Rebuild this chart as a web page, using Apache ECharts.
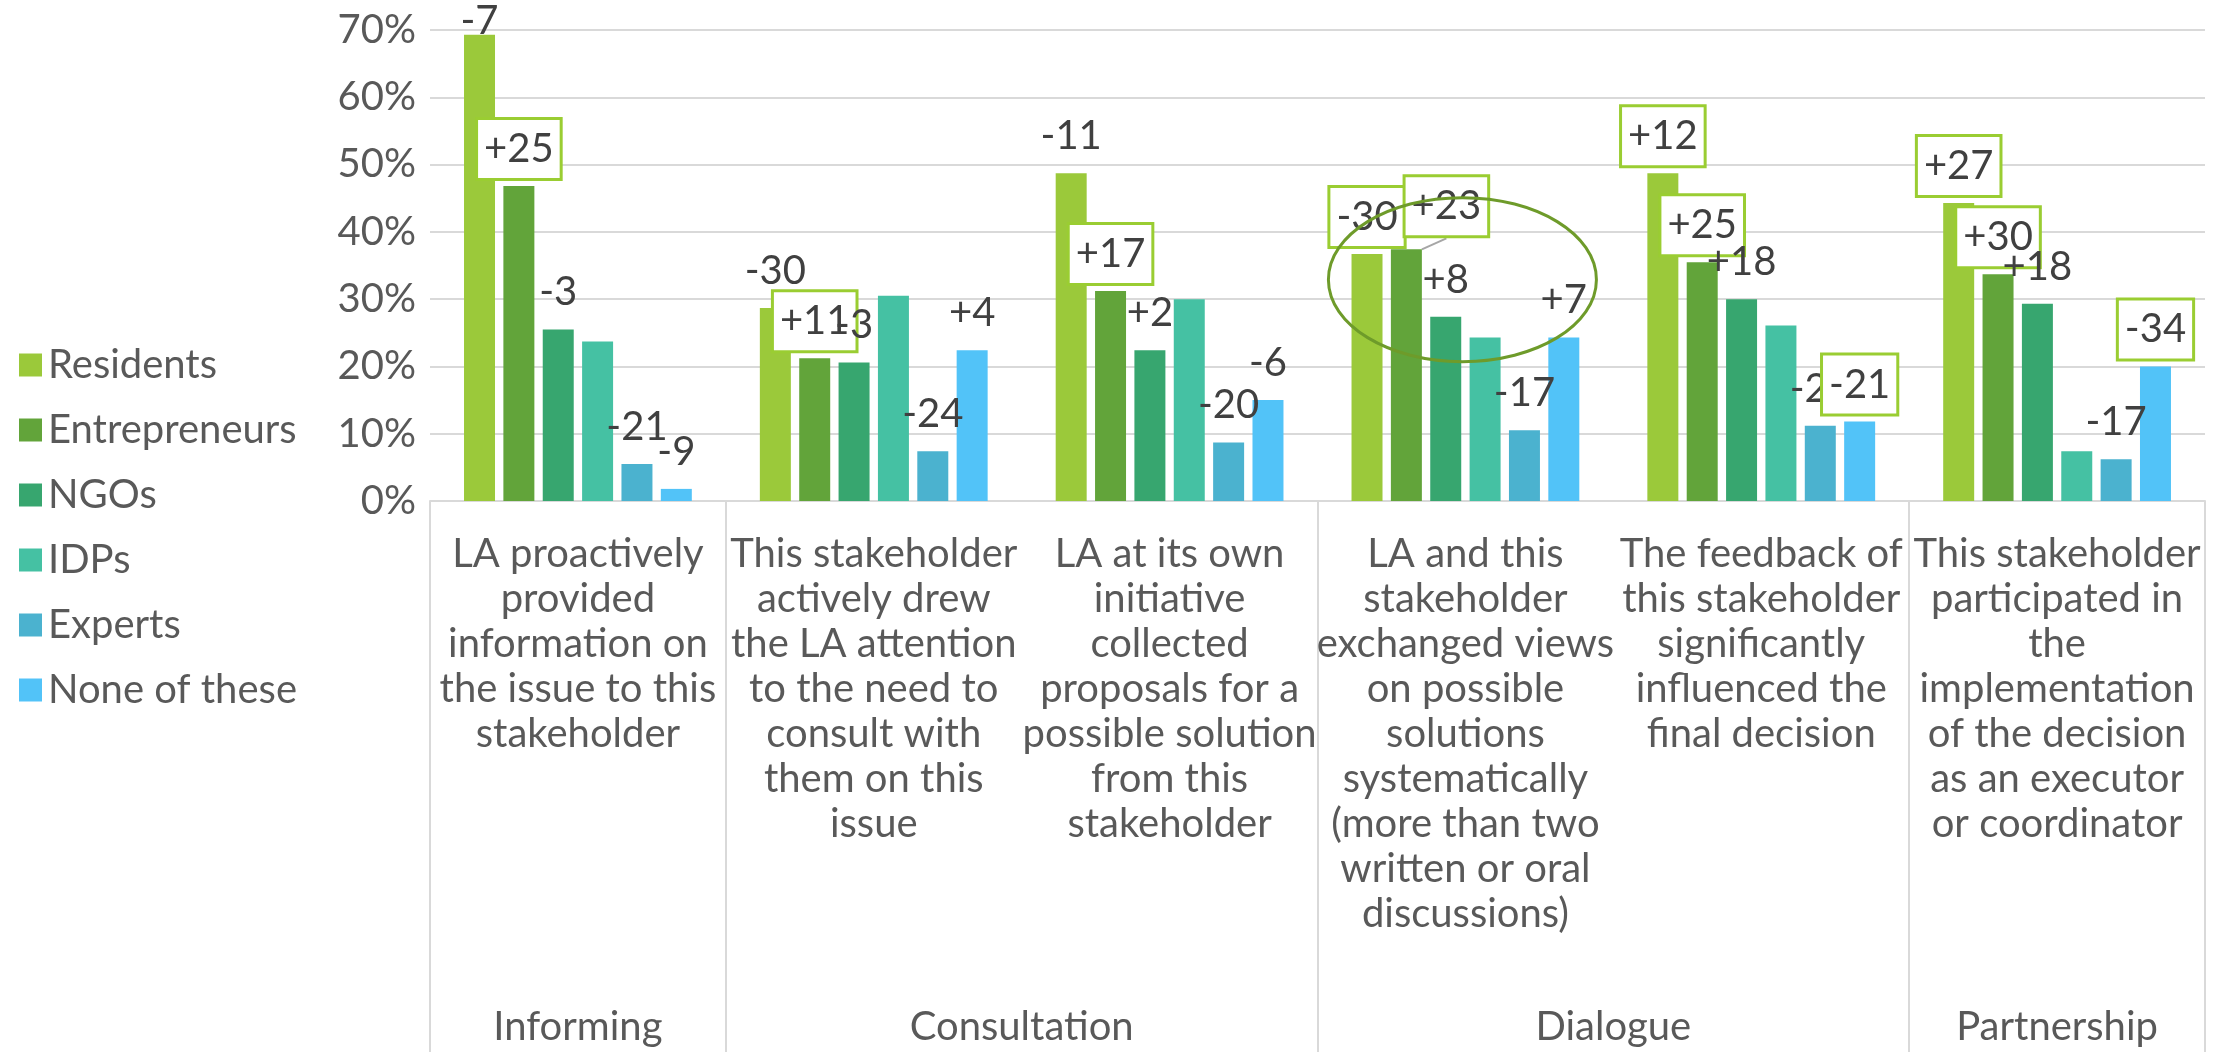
<!DOCTYPE html>
<html>
<head>
<meta charset="utf-8">
<script src="https://cdn.jsdelivr.net/npm/echarts@6/dist/echarts.min.js"></script>
<style>
  html, body { margin: 0; padding: 0; background: #ffffff; }
  #chart { width: 2213px; height: 1052px; }
</style>
</head>
<body>
<div id="chart"></div>
<script>
// ---------------- DATA ----------------
const categories = [
  'LA proactively\nprovided\ninformation on\nthe issue to this\nstakeholder',
  'This stakeholder\nactively drew\nthe LA attention\nto the need to\nconsult with\nthem on this\nissue',
  'LA at its own\ninitiative\ncollected\nproposals for a\npossible solution\nfrom this\nstakeholder',
  'LA and this\nstakeholder\nexchanged views\non possible\nsolutions\nsystematically\n(more than two\nwritten or oral\ndiscussions)',
  'The feedback of\nthis stakeholder\nsignificantly\ninfluenced the\nfinal decision',
  'This stakeholder\nparticipated in\nthe\nimplementation\nof the decision\nas an executor\nor coordinator'
];
const groupNames = ['Informing', 'Consultation', 'Dialogue', 'Partnership'];
const groupSpans = [1, 2, 2, 1];

const seriesNames = ['Residents', 'Entrepreneurs', 'NGOs', 'IDPs', 'Experts', 'None of these'];

const residents     = [69.3, 28.7, 48.7, 36.7, 48.7, 44.3];
const entrepreneurs = [46.8, 21.2, 31.2, 37.4, 35.5, 33.7];
const ngos          = [25.5, 20.6, 22.4, 27.4, 30.0, 29.3];
const idps          = [23.7, 30.5, 30.0, 24.3, 26.1, 7.4];
const experts       = [5.5, 7.4, 8.7, 10.5, 11.2, 6.2];
const noneOfThese   = [1.8, 22.4, 15.0, 24.3, 11.8, 20.0];

// change labels shown above bars
const residentsChange     = ['-7', '-30', '-11', '-30', '+12', '+27'];
const entrepreneursChange = ['+25', '+11', '+17', '+23', '+25', '+30'];
const ngosChange          = ['-3', '-3', '+2', '+8', '+18', '+18'];
const idpsChange          = [null, null, null, null, null, null];
const expertsChange       = ['-21', '-24', '-20', '-17', '-20', '-17'];
const noneChange          = ['-9', '+4', '-6', '+7', '-21', '-34'];

// which change labels are highlighted with a box
const residentsBoxed     = [0, 0, 0, 1, 1, 1];
const entrepreneursBoxed = [1, 1, 1, 1, 1, 1];
const ngosBoxed          = [0, 0, 0, 0, 0, 0];
const idpsBoxed          = [0, 0, 0, 0, 0, 0];
const expertsBoxed       = [0, 0, 0, 0, 0, 0];
const noneBoxed          = [0, 0, 0, 0, 1, 1];

const yTicks = [0, 10, 20, 30, 40, 50, 60, 70];

// ---------------- STYLE ----------------
const colors = ['#9BC93A', '#62A43A', '#37A66F', '#45C1A3', '#4BB2CF', '#52C3F8'];
const FONT = 'Lato';
const axisGrey = '#595959';
const lineGrey = '#D9D9D9';

const allValues = [residents, entrepreneurs, ngos, idps, experts, noneOfThese];
const allChanges = [residentsChange, entrepreneursChange, ngosChange, idpsChange, expertsChange, noneChange];
const allBoxed = [residentsBoxed, entrepreneursBoxed, ngosBoxed, idpsBoxed, expertsBoxed, noneBoxed];

// group axis (13 points on a boundaryGap:false category axis)
const nPts = categories.length * 2 + 1;
const groupPoints = new Array(nPts).fill('');
const tickPoints = new Set([0]);
let acc = 0;
groupNames.forEach((g, i) => {
  groupPoints[2 * acc + groupSpans[i]] = g;
  acc += groupSpans[i];
  tickPoints.add(2 * acc);
});

const series = allValues.map((vals, s) => ({
  name: seriesNames[s],
  type: 'bar',
  xAxisIndex: 0,
  yAxisIndex: 0,
  barGap: '27%',
  barCategoryGap: '23%',
  itemStyle: { color: colors[s] },
  label: {
    show: true,
    position: 'top',
    distance: 8,
    fontFamily: FONT,
    fontSize: 40,
    color: '#404040',
    lineHeight: 44,
    padding: [7, 6, 7, 6],
    borderWidth: 3,
    borderColor: 'transparent',
    backgroundColor: 'transparent'
  },
  labelLayout: function (p) {
    if (p.seriesIndex === 0 && p.dataIndex === 0) return { dy: 23 };
    if (p.seriesIndex === 1 && p.dataIndex === 3) return { dx: 40, dy: -6 };
    return {};
  },
  data: vals.map((v, i) => {
    const txt = allChanges[s][i];
    const item = { value: v };
    if (txt == null) {
      item.label = { show: false };
    } else {
      const boxed = allBoxed[s][i] === 1;
      item.label = {
        show: true,
        formatter: txt,
        borderColor: boxed ? '#9ACD32' : 'transparent',
        backgroundColor: boxed ? '#ffffff' : 'transparent'
      };
    }
    if (s === 1 && i === 3) {
      item.labelLine = { show: true, lineStyle: { color: '#A6A6A6', width: 2 } };
    }
    return item;
  })
}));

const option = {
  backgroundColor: '#ffffff',
  animation: false,
  textStyle: { fontFamily: FONT },
  legend: {
    orient: 'vertical',
    left: 14,
    top: 337,
    itemWidth: 23,
    itemHeight: 23,
    itemGap: 19,
    icon: 'rect',
    data: seriesNames,
    textStyle: { fontFamily: FONT, fontSize: 40, color: axisGrey, lineHeight: 46, padding: [0, 0, 0, 1] }
  },
  grid: { left: 430, right: 8, top: 30, bottom: 551, containLabel: false },
  xAxis: [
    {
      type: 'category',
      data: categories,
      position: 'bottom',
      axisLine: { show: true, lineStyle: { color: lineGrey, width: 2 } },
      axisTick: { show: false },
      axisLabel: {
        interval: 0,
        margin: 31,
        fontFamily: FONT,
        fontSize: 40,
        lineHeight: 45,
        color: axisGrey,
        align: 'center'
      }
    },
    {
      type: 'category',
      data: groupPoints,
      position: 'bottom',
      offset: 0,
      boundaryGap: false,
      axisLine: { show: false },
      axisTick: {
        show: true,
        length: 551,
        interval: function (idx) { return tickPoints.has(idx); },
        lineStyle: { color: lineGrey, width: 2 }
      },
      axisLabel: {
        interval: function (idx) { return groupPoints[idx] !== ''; },
        margin: 504,
        fontFamily: FONT,
        fontSize: 40,
        lineHeight: 45,
        color: axisGrey
      },
      splitLine: { show: false }
    }
  ],
  yAxis: {
    type: 'value',
    min: yTicks[0],
    max: yTicks[yTicks.length - 1],
    interval: yTicks[1] - yTicks[0],
    axisLine: { show: false },
    axisTick: { show: false },
    axisLabel: {
      formatter: '{value}%',
      margin: 14,
      fontFamily: FONT,
      fontSize: 40,
      color: axisGrey
    },
    splitLine: { lineStyle: { color: lineGrey, width: 2 } }
  },
  series: series
};

const chart = echarts.init(document.getElementById('chart'), null, { renderer: 'canvas' });
chart.setOption(option);

// annotation ellipse around the "Dialogue / exchanged views" group
const ellipseCat = 3, ellipseVal = 32.9;
const c = chart.convertToPixel({ xAxisIndex: 0, yAxisIndex: 0 }, [ellipseCat, ellipseVal]);
chart.setOption({
  graphic: [{
    type: 'ellipse',
    z: 100,
    shape: { cx: c[0] - 3, cy: c[1], rx: 134, ry: 82 },
    style: { fill: 'none', stroke: '#6E9B2A', lineWidth: 3 }
  }]
});
</script>
</body>
</html>
